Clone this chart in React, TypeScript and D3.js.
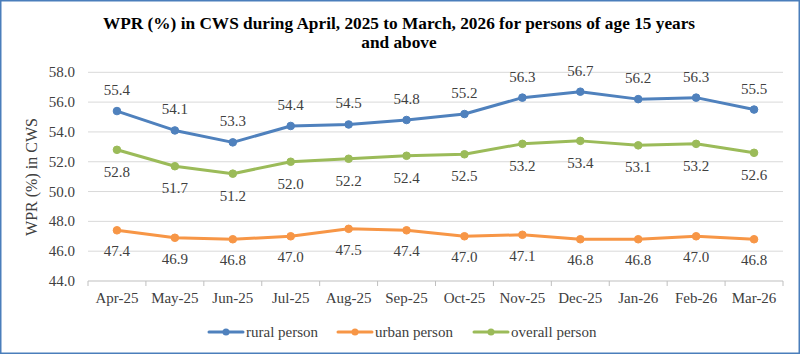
import React from "react";
import * as d3 from "d3";

const categories = ["Apr-25","May-25","Jun-25","Jul-25","Aug-25","Sep-25","Oct-25","Nov-25","Dec-25","Jan-26","Feb-26","Mar-26"];
const rural = [55.4,54.1,53.3,54.4,54.5,54.8,55.2,56.3,56.7,56.2,56.3,55.5];
const urban = [47.4,46.9,46.8,47.0,47.5,47.4,47.0,47.1,46.8,46.8,47.0,46.8];
const overall = [52.8,51.7,51.2,52.0,52.2,52.4,52.5,53.2,53.4,53.1,53.2,52.6];
const yTicks = [44,46,48,50,52,54,56,58];
const seriesNames = ["rural person","urban person","overall person"];

const W = 801, H = 355;
const colors = ["#4F81BD", "#F79646", "#9BBB59"];
const font = "'Liberation Serif', 'Times New Roman', serif";
const txt = "#404040";

export default function App() {
  const x = d3.scaleBand<string>().domain(categories).range([88, 783]);
  const y = d3.scaleLinear().domain([44, 58]).range([281, 72.3]);
  const cx = (i: number) => (x(categories[i]) as number) + x.bandwidth() / 2;
  const line = d3.line<number>().x((_, i) => cx(i)).y((d) => y(d));
  const series = [rural, urban, overall];
  const labelOffset = [-16, 26, 27];
  const legendX = [209, 338, 474];

  return (
    <svg width={W} height={H} style={{ position: "absolute", left: 0, top: 0, display: "block" }} fontFamily={font}>
      <rect x={0} y={0} width={W} height={H} fill="#fff" />
      <rect x={0.75} y={0.75} width={W - 2.5} height={H - 2.5} fill="none" stroke="#4A7EBB" strokeWidth={1.5} />
      <text x={399} y={29} textAnchor="middle" fontSize={17.3} fontWeight="bold" fill="#000">
        WPR (%) in CWS during April, 2025 to March, 2026 for persons of age 15 years
      </text>
      <text x={399} y={48} textAnchor="middle" fontSize={17.3} fontWeight="bold" fill="#000">and above</text>
      {yTicks.map((t) => (
        <g key={t}>
          <line x1={88} x2={783} y1={y(t)} y2={y(t)} stroke={t === 44 ? "#BFBFBF" : "#D9D9D9"} strokeWidth={1} />
          <text x={75} y={y(t) + 5} textAnchor="end" fontSize={15} fill={txt}>{t.toFixed(1)}</text>
        </g>
      ))}
      {categories.map((c, i) => (
        <line key={"t" + i} x1={x(c) as number} x2={x(c) as number} y1={281} y2={286} stroke="#BFBFBF" />
      ))}
      <line x1={783} x2={783} y1={281} y2={286} stroke="#BFBFBF" />
      {categories.map((c, i) => (
        <text key={c} x={cx(i)} y={303} textAnchor="middle" fontSize={15} fill={txt}>{c}</text>
      ))}
      <text transform={`translate(37,177) rotate(-90)`} textAnchor="middle" fontSize={16} fill={txt}>WPR (%) in CWS</text>
      {series.map((s, si) => (
        <g key={si}>
          <path d={line(s) as string} fill="none" stroke={colors[si]} strokeWidth={3} strokeLinejoin="round" strokeLinecap="round" />
          {s.map((v, i) => (
            <circle key={i} cx={cx(i)} cy={y(v)} r={3.8} fill={colors[si]} stroke={colors[si]} />
          ))}
          {s.map((v, i) => (
            <text key={"l" + i} x={cx(i)} y={y(v) + labelOffset[si]} textAnchor="middle" fontSize={15} fill={txt}>{v.toFixed(1)}</text>
          ))}
        </g>
      ))}
      {seriesNames.map((n, i) => (
        <g key={n}>
          <line x1={legendX[i]} x2={legendX[i] + 34} y1={332} y2={332} stroke={colors[i]} strokeWidth={3} strokeLinecap="round" />
          <circle cx={legendX[i] + 17} cy={332} r={3.5} fill={colors[i]} />
          <text x={legendX[i] + 37} y={337} fontSize={15} fill={txt}>{n}</text>
        </g>
      ))}
    </svg>
  );
}
